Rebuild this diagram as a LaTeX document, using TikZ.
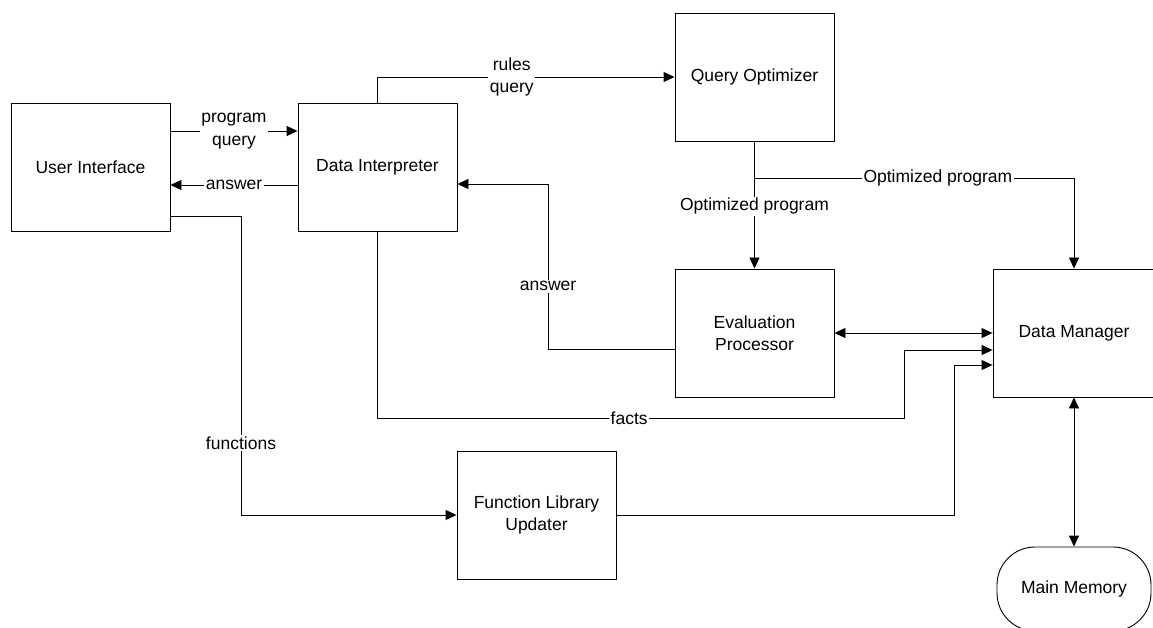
\documentclass[tikz,border=0pt]{standalone}
\usepackage{fontspec}
\setmainfont{Liberation Sans}
\usetikzlibrary{arrows.meta}
\begin{document}
\begin{tikzpicture}[x=1pt,y=-1pt,
  every node/.style={font=\fontsize{17.5}{22.5}\selectfont},
  box/.style={draw, line width=0.9pt, minimum width=159pt, minimum height=128pt, inner sep=0pt, align=center},
  lbl/.style={fill=white, inner sep=1.5pt, align=center},
  conn/.style={line width=0.9pt},
  arr/.style={conn, -{Triangle[length=11pt,width=10pt]}},
  darr/.style={conn, {Triangle[length=11pt,width=10pt]}-{Triangle[length=11pt,width=10pt]}}]
\useasboundingbox (0,0) rectangle (1153,628);
\node[box] (UI) at (90.5,167.5) {User Interface};
\node[box] (DI) at (377.5,167.5) {Data Interpreter};
\node[box] (QO) at (754.5,77) {Query Optimizer};
\node[box] (EP) at (754.5,333) {Evaluation\\Processor};
\node[box, minimum width=162pt] (DM) at (1074,333) {Data Manager};
\node[box] (FLU) at (536.5,515) {Function Library\\Updater};
\node[draw, line width=0.9pt, rounded corners=38pt, minimum width=154pt, minimum height=84pt] (MM) at (1074,589) {Main Memory};

\coordinate (pq) at (0,131);
\draw[arr] (UI.east |- pq) -- node[lbl] (lpq) {program\\query} (DI.west |- pq);
\coordinate (ans) at (0,185);
\draw[arr] (DI.west |- ans) -- node[lbl] (lans) {answer} (UI.east |- ans);
\draw[arr] (DI.north) |- node[lbl,pos=0.726] (lrq) {rules\\query} (QO.west);
\draw[arr] (QO.south) -- node[lbl,pos=0.51] (lop1) {Optimized program} (EP.north);
\coordinate (br) at (754.5,178);
\draw[arr] (br) -| node[lbl,pos=0.287] (lop2) {Optimized program} (DM.north);
\coordinate (a1) at (548,349);
\coordinate (a2) at (548,184);
\draw[arr] (EP.west |- a1) -- (a1) -- node[lbl,pos=0.38] (lans2) {answer} (a2) -- (DI.east |- a2);
\draw[darr] (EP.east) -- (DM.west);
\coordinate (f1) at (904,418);
\coordinate (f2) at (904,350);
\draw[arr] (DI.south) |- node[lbl,pos=0.739] (lf) {facts} (f1) -- (f2) -- (DM.west |- f2);
\coordinate (g1) at (954,365);
\draw[arr] (FLU.east) -| (g1) -- (DM.west |- g1);
\coordinate (h1) at (241,216);
\draw[arr] (UI.east |- h1) -- (h1) |- node[lbl,pos=0.38] (lfn) {functions} (FLU.west);
\draw[darr] (DM.south) -- (MM.north);
\end{tikzpicture}
\end{document}
